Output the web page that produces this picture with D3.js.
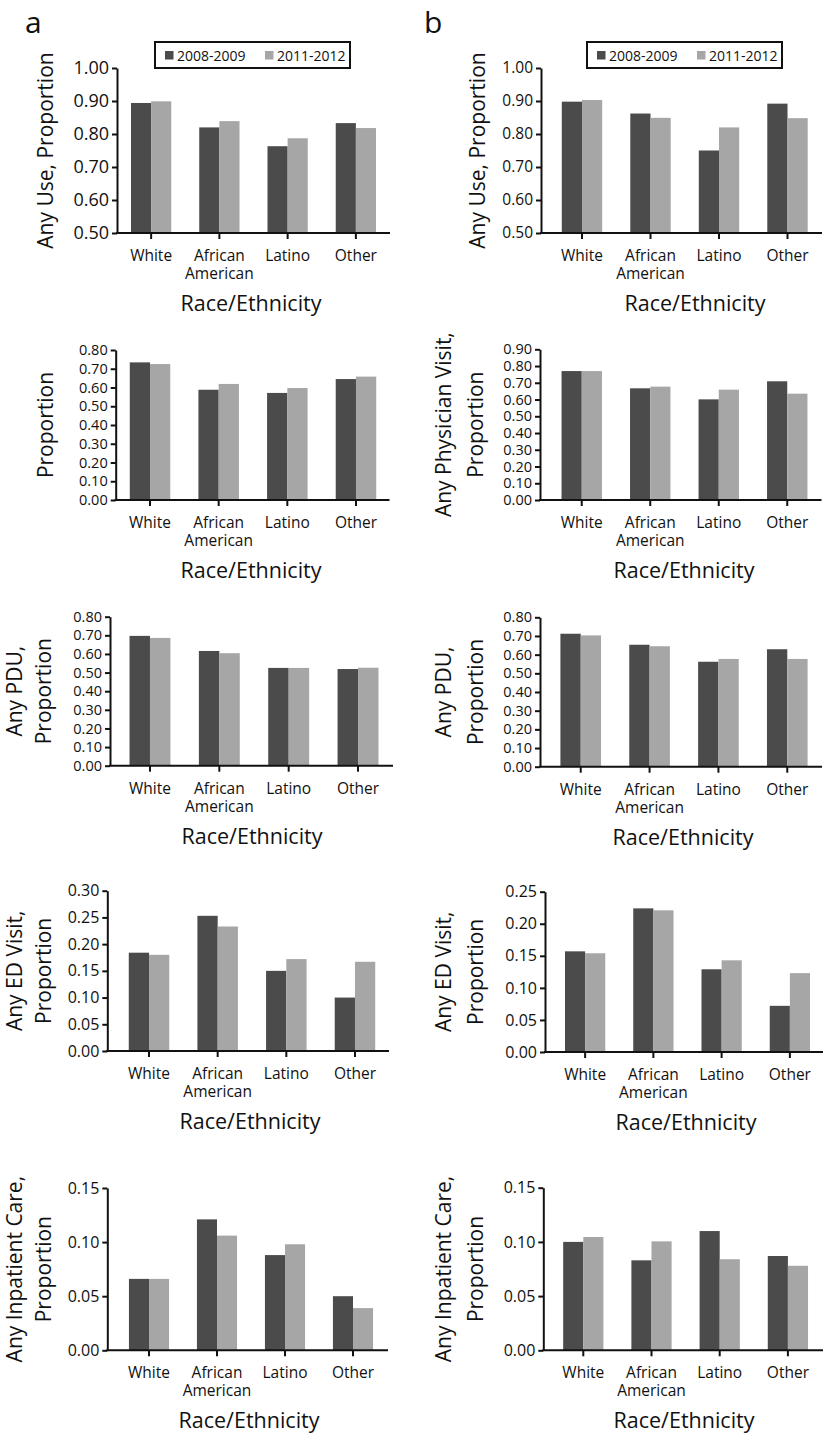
<!DOCTYPE html>
<html><head><meta charset="utf-8">
<script src="https://cdn.jsdelivr.net/npm/d3@7"></script>
<style>
body{margin:0;background:#fff}
svg text{font-family:"Open Sans",sans-serif;fill:#111}
</style>
</head><body><svg id="chart" width="827" height="1437"></svg>
<script>
// ---------- data ----------
const categories = ["White", "African American", "Latino", "Other"];
const seriesNames = ["2008-2009", "2011-2012"];
const seriesColors = ["#4b4b4b", "#a6a6a6"];

// Panel a
const aAnyUse2008 = [0.894, 0.820, 0.763, 0.833];
const aAnyUse2011 = [0.899, 0.839, 0.787, 0.818];
const aPhys2008   = [0.734, 0.588, 0.571, 0.645];
const aPhys2011   = [0.725, 0.619, 0.597, 0.658];
const aPDU2008    = [0.697, 0.616, 0.525, 0.519];
const aPDU2011    = [0.686, 0.604, 0.525, 0.526];
const aED2008     = [0.184, 0.253, 0.150, 0.100];
const aED2011     = [0.180, 0.233, 0.172, 0.167];
const aInp2008    = [0.066, 0.121, 0.088, 0.050];
const aInp2011    = [0.066, 0.106, 0.098, 0.039];

// Panel b
const bAnyUse2008 = [0.898, 0.862, 0.750, 0.892];
const bAnyUse2011 = [0.903, 0.849, 0.820, 0.848];
const bPhys2008   = [0.770, 0.667, 0.601, 0.709];
const bPhys2011   = [0.770, 0.677, 0.659, 0.635];
const bPDU2008    = [0.712, 0.653, 0.562, 0.629];
const bPDU2011    = [0.703, 0.645, 0.577, 0.577];
const bED2008     = [0.157, 0.224, 0.129, 0.072];
const bED2011     = [0.154, 0.221, 0.143, 0.123];
const bInp2008    = [0.100, 0.083, 0.110, 0.087];
const bInp2011    = [0.1045, 0.1005, 0.084, 0.078];

// Tick values
const ticksAnyUse = [0.50, 0.60, 0.70, 0.80, 0.90, 1.00];
const ticks0to80  = [0, 0.1, 0.2, 0.3, 0.4, 0.5, 0.6, 0.7, 0.8];
const ticks0to90  = [0, 0.1, 0.2, 0.3, 0.4, 0.5, 0.6, 0.7, 0.8, 0.9];
const ticks0to30  = [0, 0.05, 0.10, 0.15, 0.20, 0.25, 0.30];
const ticks0to25  = [0, 0.05, 0.10, 0.15, 0.20, 0.25];
const ticks0to15  = [0, 0.05, 0.10, 0.15];

const xTitle = "Race/Ethnicity";

// ---------- layout ----------
const panels = [
  {s:[aAnyUse2008,aAnyUse2011], t:ticksAnyUse, title:["Any Use, Proportion"], col:0,
   ax:117, xr:[117,390], xEnd:390, yTop:68, yBot:233, tf:18, legend:true, xtX:251},
  {s:[bAnyUse2008,bAnyUse2011], t:ticksAnyUse, title:["Any Use, Proportion"], col:1,
   ax:541, xr:[547.75,821.75], xEnd:822, yTop:68, yBot:233, tf:15.5, legend:true, xtX:695},
  {s:[aPhys2008,aPhys2011], t:ticks0to80, title:["Proportion"], col:0,
   ax:115.7, xr:[115.7,390.3], xEnd:389.5, yTop:350, yBot:500, tf:14.5, xtX:251},
  {s:[bPhys2008,bPhys2011], t:ticks0to90, title:["Any Physician Visit,","Proportion"], col:1,
   ax:540, xr:[547.5,821.5], xEnd:821.5, yTop:349.3, yBot:500, tf:14.5, xtX:684},
  {s:[aPDU2008,aPDU2011], t:ticks0to80, title:["Any PDU,","Proportion"], col:0,
   ax:110, xr:[115.3,392.7], xEnd:393, yTop:616.7, yBot:765.7, tf:14.5, xtX:252},
  {s:[bPDU2008,bPDU2011], t:ticks0to80, title:["Any PDU,","Proportion"], col:1,
   ax:540, xr:[546.3,821.7], xEnd:822, yTop:617.3, yBot:766.7, tf:14.5, xtX:683},
  {s:[aED2008,aED2011], t:ticks0to30, title:["Any ED Visit,","Proportion"], col:0,
   ax:107.3, xr:[114.7,389.3], xEnd:389, yTop:890.7, yBot:1051, tf:16, xtX:250},
  {s:[bED2008,bED2011], t:ticks0to25, title:["Any ED Visit,","Proportion"], col:1,
   ax:545, xr:[551,824], xEnd:823, yTop:891.7, yBot:1052, tf:16, xtX:686},
  {s:[aInp2008,aInp2011], t:ticks0to15, title:["Any Inpatient Care,","Proportion"], col:0,
   ax:107.3, xr:[115,387], xEnd:388, yTop:1188, yBot:1350.3, tf:16, xtX:249},
  {s:[bInp2008,bInp2011], t:ticks0to15, title:["Any Inpatient Care,","Proportion"], col:1,
   ax:543.3, xr:[549.2,822], xEnd:823, yTop:1187.7, yBot:1350.3, tf:16, xtX:684}
];

const svg = d3.select("#chart");
const fmt = d3.format(".2f");

// panel letters
svg.append("text").attr("x", 25).attr("y", 33).attr("font-size", 30).text("a");
svg.append("text").attr("x", 424).attr("y", 33).attr("font-size", 30).text("b");

panels.forEach(p => {
  const g = svg.append("g");
  const y = d3.scaleLinear().domain([p.t[0], p.t[p.t.length-1]]).range([p.yBot, p.yTop]);
  const x0 = d3.scaleBand().domain(categories).range(p.xr).paddingInner(0.41).paddingOuter(0.205);
  const x1 = d3.scaleBand().domain(seriesNames).range([0, x0.bandwidth()]);

  // bars
  seriesNames.forEach((sn, si) => {
    g.append("g").selectAll("rect").data(p.s[si]).join("rect")
      .attr("x", (d, i) => x0(categories[i]) + x1(sn))
      .attr("y", d => y(d))
      .attr("width", x1.bandwidth())
      .attr("height", d => y(p.t[0]) - y(d))
      .attr("fill", seriesColors[si]);
  });

  // y axis
  const ya = g.append("g").attr("transform", `translate(${p.ax},0)`)
    .call(d3.axisLeft(y).tickValues(p.t).tickFormat(fmt).tickSize(5).tickSizeOuter(0).tickPadding(3));
  ya.selectAll("path,line").attr("stroke", "#111").attr("stroke-width", 2);
  ya.selectAll("text").attr("font-family", "Open Sans, sans-serif").attr("font-size", p.tf).attr("fill", "#111");

  // x axis
  const xa = g.append("g").attr("transform", `translate(0,${p.yBot})`)
    .call(d3.axisBottom(x0).tickSize(6).tickSizeOuter(0).tickFormat(""));
  xa.select(".domain").attr("d", `M${p.ax - 1},0H${p.xEnd}`);
  xa.selectAll("path,line").attr("stroke", "#111").attr("stroke-width", 2);
  xa.selectAll(".tick text").remove();
  xa.selectAll(".tick").each(function(d) {
    const words = d.split(" ");
    const t = d3.select(this).append("text").attr("text-anchor", "middle")
      .attr("font-size", 15.5).attr("fill", "#111");
    words.forEach((w, i) => {
      t.append("tspan").attr("x", 0).attr("y", i === 0 ? 28 : 46).text(w);
    });
  });

  // x title
  g.append("text").attr("x", p.xtX).attr("y", p.yBot + 78)
    .attr("text-anchor", "middle").attr("font-size", 21.5).text(xTitle);

  // y title
  const yc = (p.yTop + p.yBot) / 2;
  const xs = p.title.length === 1 ? (p.col === 0 ? [53] : [484.5]) : (p.col === 0 ? [22, 51] : [451, 482.5]);
  p.title.forEach((line, i) => {
    g.append("text").attr("transform", `translate(${xs[i]},${yc}) rotate(-90)`)
      .attr("text-anchor", "middle").attr("font-size", 21).text(line);
  });

  // legend
  if (p.legend) {
    const lx = p.col === 0 ? 155 : 587;
    const lg = g.append("g").attr("transform", `translate(${lx},42)`);
    lg.append("rect").attr("x", 0).attr("y", 0).attr("width", 195).attr("height", 26)
      .attr("fill", "#fff").attr("stroke", "#111").attr("stroke-width", 2);
    const offs = [10, 110];
    seriesNames.forEach((sn, i) => {
      lg.append("rect").attr("x", offs[i]).attr("y", 9).attr("width", 8.5).attr("height", 8.5)
        .attr("fill", seriesColors[i]);
      lg.append("text").attr("x", offs[i] + 12).attr("y", 18.5).attr("font-size", 14).text(sn);
    });
  }
});
</script>
</body></html>
